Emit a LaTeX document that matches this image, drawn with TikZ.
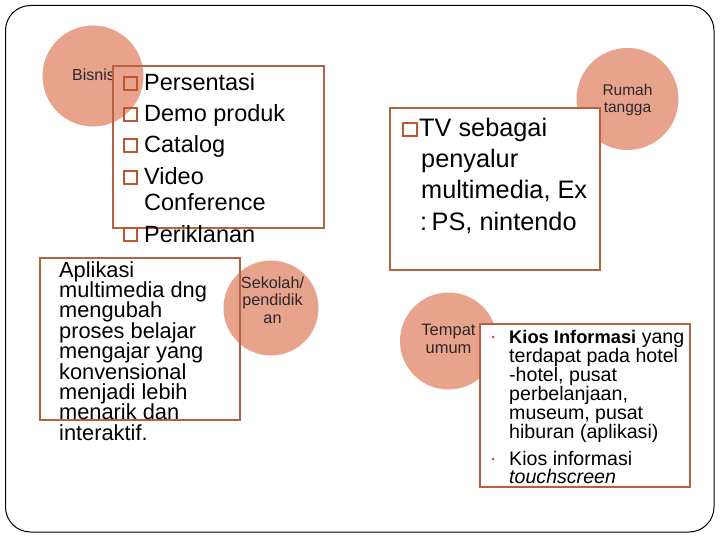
\documentclass[tikz,border=0pt]{standalone}
\usepackage{fontspec}
\setmainfont{Liberation Sans}
\definecolor{circfill}{RGB}{232,163,140}
\definecolor{boxc}{RGB}{183,98,62}
\definecolor{chkc}{RGB}{192,84,44}
\definecolor{circtext}{RGB}{45,40,40}
\tikzset{
  circ/.style={circle, fill=circfill, draw=none, inner sep=0},
  frame/.style={draw=boxc, line width=1.8pt},
  chk/.style={draw=chkc, line width=1.8pt, minimum size=13.5pt, inner sep=0},
  txt/.style={anchor=base west, inner sep=0, text=black},
  ctxt/.style={anchor=base, inner sep=0, text=circtext},
  bul/.style={circle, fill=chkc, inner sep=0, minimum size=3pt},
}
\begin{document}
\begin{tikzpicture}[x=1pt,y=-1pt]
\useasboundingbox (0,0) rectangle (720,540);
% outer frame
\draw[black, line width=1pt, rounded corners=25pt] (5.5,5.5) rectangle (714,532);

% ---- Bisnis ----
\node[circ, minimum size=101pt] (bisnis) at (93,76) {};
\node[ctxt, font=\fontsize{16}{17}\selectfont] (tbisnis) at (93.5,81) {Bisnis};
\draw[frame] (113,66) rectangle (324,228);
\begin{scope}[font=\fontsize{23.5}{26}\selectfont]
\node[chk] (c1) at (130.5,83.5) {};
\node[txt] (p1) at (144,91) {Persentasi};
\node[chk] (c2) at (130.5,114.5) {};
\node[txt] (p2) at (144,122) {Demo produk};
\node[chk] (c3) at (130.5,145.5) {};
\node[txt] (p3) at (144,153) {Catalog};
\node[chk] (c4) at (130.5,177.5) {};
\node[txt] (p4) at (144,185) {Video};
\node[txt] (p4b) at (144,211) {Conference};
\node[chk] (c5) at (130.5,234.5) {};
\node[txt] (p5) at (144,242) {Periklanan};
\end{scope}

% ---- Rumah tangga ----
\node[circ, minimum size=102pt] (rumah) at (627.5,99) {};
\fill[white] (390,108) rectangle (600,270);
\draw[frame] (390,108) rectangle (600,270);
\node[ctxt, font=\fontsize{15.5}{16}\selectfont] (trumah1) at (627.5,96) {Rumah};
\node[ctxt, font=\fontsize{15.5}{16}\selectfont] (trumah2) at (627.5,113) {tangga};
\begin{scope}[font=\fontsize{25.3}{28}\selectfont]
\node[chk] (c6) at (410,129.5) {};
\node[txt] (tv1) at (419,137) {TV sebagai};
\node[txt] (tv2) at (421,168) {penyalur};
\node[txt] (tv3) at (421,199) {multimedia, Ex};
\node[txt] (tv4) at (420,230) {:\kern4.5pt PS, nintendo};
\end{scope}

% ---- Sekolah / pendidikan ----
\node[circ, minimum size=95pt] (sekolah) at (271,308) {};
\draw[frame] (40,258) rectangle (240,420);
\node[ctxt, font=\fontsize{16.2}{17}\selectfont] (ts1) at (272.5,288) {Sekolah/};
\node[ctxt, font=\fontsize{16.2}{17}\selectfont] (ts2) at (272.5,305) {pendidik};
\node[ctxt, font=\fontsize{16.2}{17}\selectfont] (ts3) at (272.5,323) {an};
\begin{scope}[font=\fontsize{21.8}{22}\selectfont]
\node[txt] (a1) at (59,277) {Aplikasi};
\node[txt] (a2) at (59,297.4) {multimedia dng};
\node[txt] (a3) at (59,317.8) {mengubah};
\node[txt] (a4) at (59,338.2) {proses belajar};
\node[txt] (a5) at (59,358.6) {mengajar yang};
\node[txt] (a6) at (59,379) {konvensional};
\node[txt] (a7) at (59,399.4) {menjadi lebih};
\node[txt] (a8) at (59,419.8) {menarik dan};
\node[txt] (a9) at (59,440.2) {interaktif.};
\end{scope}

% ---- Tempat umum ----
\node[circ, minimum size=97pt] (tempat) at (448.5,341) {};
\node[ctxt, font=\fontsize{16.5}{17}\selectfont] (tt1) at (448.5,335) {Tempat};
\node[ctxt, font=\fontsize{16.5}{17}\selectfont] (tt2) at (448.5,353) {umum};
\fill[white] (480,324) rectangle (690,487);
\draw[frame] (480,324) rectangle (690,487);
\node[bul] (bu1) at (493,337) {};
\node[bul] (bu2) at (493,459) {};
\begin{scope}[font=\fontsize{19.6}{21}\selectfont]
\node[txt] (k1) at (509,343) {{\fontsize{18.3}{20}\selectfont\bfseries Kios Informasi} yang};
\node[txt] (k2) at (509,362) {terdapat pada hotel};
\node[txt] (k3) at (509,381) {-hotel, pusat};
\node[txt] (k4) at (509,400) {perbelanjaan,};
\node[txt] (k5) at (509,419) {museum, pusat};
\node[txt] (k6) at (509,438) {hiburan (aplikasi)};
\node[txt] (k7) at (509,465) {Kios informasi};
\node[txt] (k8) at (509,483) {\itshape touchscreen};
\end{scope}
\end{tikzpicture}
\end{document}
